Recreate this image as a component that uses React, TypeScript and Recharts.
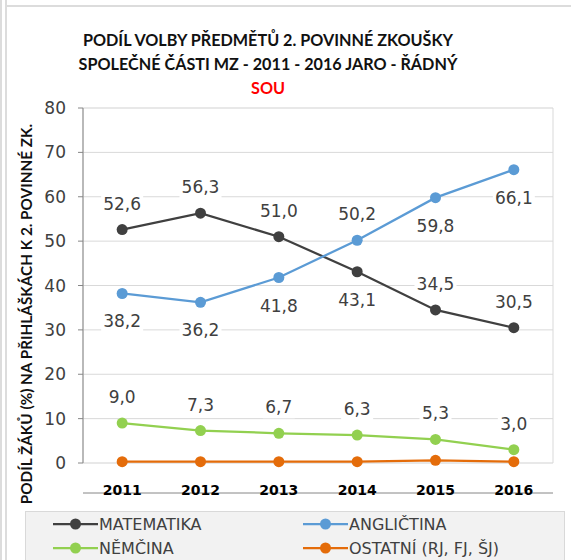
import React from "react";
import { LineChart, Line, XAxis, YAxis, CartesianGrid, LabelList, Legend } from "recharts";

const years = ["2011", "2012", "2013", "2014", "2015", "2016"];
const seriesNames = ["MATEMATIKA", "ANGLIČTINA", "NĚMČINA", "OSTATNÍ (RJ, FJ, ŠJ)"];
const matematika = [52.6, 56.3, 51.0, 43.1, 34.5, 30.5];
const anglictina = [38.2, 36.2, 41.8, 50.2, 59.8, 66.1];
const nemcina = [9.0, 7.3, 6.7, 6.3, 5.3, 3.0];
const ostatni = [0.3, 0.3, 0.3, 0.3, 0.6, 0.3];

const yTicks = [0, 10, 20, 30, 40, 50, 60, 70, 80];
const yMinorTicks = [0, 2, 4, 6, 8, 10, 12, 14, 16, 18, 20, 22, 24, 26, 28, 30, 32, 34, 36, 38, 40, 42, 44, 46, 48, 50, 52, 54, 56, 58, 60, 62, 64, 66, 68, 70, 72, 74, 76, 78, 80];
const boundaryTicks = [0, 1, 2, 3, 4, 5, 6];
const centerTicks = [0.5, 1.5, 2.5, 3.5, 4.5, 5.5];

// where each data label sits relative to its point
const matLabelSide = ["top", "top", "top", "bottom", "top", "top"];
const angLabelSide = ["bottom", "bottom", "bottom", "top", "bottom", "bottom"];
const nemLabelSide = ["top", "top", "top", "top", "top", "top"];

const data = years.map((year, i) => ({
  year,
  pos: centerTicks[i],
  mat: matematika[i],
  ang: anglictina[i],
  nem: nemcina[i],
  ost: ostatni[i],
}));

const COLORS = {
  mat: "#404040",
  ang: "#5b9bd5",
  nem: "#92d050",
  ost: "#e46c0a",
};

const numFont = "'DejaVu Sans', Verdana, sans-serif";
const titleFont = "Lato, 'Open Sans', sans-serif";

const fmt = (v: number) => v.toFixed(1).replace(".", ",");

const makeLabel = (sides: string[]) => (props: any) => {
  const { x, y, value, index } = props;
  const side = sides[index];
  const cy = side === "top" ? y - 26 : y + 28;
  const text = fmt(Number(value));
  const w = text.length * 10 + 2;
  return (
    <g>
      <rect x={x - w / 2} y={cy - 11} width={w} height={22} fill="#fff" />
      <text
        x={x}
        y={cy}
        textAnchor="middle"
        dominantBaseline="central"
        fontFamily={numFont}
        fontSize={17}
        fill="#404040"
      >
        {text}
      </text>
    </g>
  );
};

const LegendBox = (props: any) => {
  const items = props.payload || [];
  return (
    <div
      style={{
        display: "grid",
        gridTemplateColumns: "250px 250px",
        rowGap: 2,
        paddingLeft: 27,
        paddingTop: 1,
        fontFamily: numFont,
        fontSize: 16,
        color: "#404040",
      }}
    >
      {items.map((it: any) => (
        <div key={it.value} style={{ display: "flex", alignItems: "center", height: 22 }}>
          <svg width={45} height={14} style={{ marginRight: 1 }}>
            <line x1={0} y1={7} x2={45} y2={7} stroke={it.color} strokeWidth={2.25} />
            <circle cx={22.5} cy={7} r={5.5} fill={it.color} />
          </svg>
          <span>{it.value}</span>
        </div>
      ))}
    </div>
  );
};

const App: React.FC = () => {
  return (
    <div style={{ position: "absolute", left: 0, top: 0, width: 571, height: 560, background: "#fff", overflow: "hidden" }}>
      {/* outer frame lines */}
      <div style={{ position: "absolute", left: 0, top: 0, width: 2, height: 560, background: "#dcdcdc" }} />
      <div style={{ position: "absolute", left: 5, top: 0, width: 2, height: 560, background: "#dcdcdc" }} />
      <div style={{ position: "absolute", left: 5, top: 5, width: 566, height: 2, background: "#dcdcdc" }} />

      <div
        style={{
          position: "absolute",
          left: 68,
          top: 28,
          width: 400,
          textAlign: "center",
          fontFamily: titleFont,
          fontWeight: 700,
          fontSize: 16.2,
          lineHeight: "24px",
          color: "#111",
        }}
      >
        <div>PODÍL VOLBY PŘEDMĚTŮ 2. POVINNÉ ZKOUŠKY</div>
        <div>SPOLEČNÉ ČÁSTI MZ - 2011 - 2016 JARO - ŘÁDNÝ</div>
        <div style={{ color: "#ff0000" }}>SOU</div>
      </div>

      <LineChart width={571} height={560} data={data} margin={{ top: 108, right: 18, left: 0, bottom: 59 }}>
        <CartesianGrid xAxisId="grid" yAxisId="minor" vertical={false} stroke="#efefef" strokeWidth={1} />
        <CartesianGrid xAxisId="grid" yAxisId="major" stroke="#d9d9d9" strokeWidth={1} />
        <XAxis
          xAxisId="grid"
          dataKey="pos"
          type="number"
          domain={[0, 6]}
          allowDataOverflow
          ticks={boundaryTicks}
          interval={0}
          tick={false}
          tickSize={6}
          height={8}
          axisLine={{ stroke: "#868686" }}
          tickLine={{ stroke: "#868686" }}
        />
        <XAxis
          xAxisId="cat"
          dataKey="pos"
          type="number"
          domain={[0, 6]}
          allowDataOverflow
          ticks={centerTicks}
          interval={0}
          tickFormatter={(v: number) => years[Math.floor(v)]}
          height={30}
          axisLine={false}
          tickLine={false}
          tickSize={0}
          tickMargin={22}
          tick={{ fontFamily: numFont, fontSize: 14, fontWeight: 700, fill: "#000" }}
        />
        <YAxis
          yAxisId="major"
          width={83}
          domain={[0, 80]}
          ticks={yTicks}
          interval={0}
          tickSize={5}
          tickMargin={12}
          axisLine={{ stroke: "#868686" }}
          tickLine={{ stroke: "#868686" }}
          tick={{ fontFamily: numFont, fontSize: 17, fill: "#404040" }}
          label={{
            content: () => (
              <text
                x={26}
                y={314}
                transform="rotate(-90 26 314)"
                textAnchor="middle"
                dominantBaseline="central"
                fontFamily={titleFont}
                fontWeight={700}
                fontSize={15.3}
                fill="#111"
              >
                PODÍL ŽÁKŮ (%) NA PŘIHLÁŠKÁCH K 2. POVINNÉ ZK.
              </text>
            ),
          }}
        />
        <YAxis
          yAxisId="minor"
          orientation="right"
          width={0}
          domain={[0, 80]}
          ticks={yMinorTicks}
          interval={0}
          tick={false}
          axisLine={false}
          tickLine={false}
        />
        <Legend
          layout="horizontal"
          verticalAlign="middle"
          align="center"
          itemSorter={(item: any) => seriesNames.indexOf(item.value)}
          content={<LegendBox />}
          wrapperStyle={{
            position: "absolute",
            left: 25,
            top: 511,
            width: 540,
            height: 52,
            background: "#f2f2f2",
            border: "1px solid #d9d9d9",
            boxSizing: "border-box",
          }}
        />
        <Line
          xAxisId="grid"
          yAxisId="major"
          name={seriesNames[0]}
          dataKey="mat"
          stroke={COLORS.mat}
          strokeWidth={2.25}
          dot={{ r: 5.5, fill: COLORS.mat, stroke: "none" }}
          activeDot={false}
          isAnimationActive={false}
        >
          <LabelList dataKey="mat" content={makeLabel(matLabelSide)} />
        </Line>
        <Line
          xAxisId="grid"
          yAxisId="major"
          name={seriesNames[1]}
          dataKey="ang"
          stroke={COLORS.ang}
          strokeWidth={2.25}
          dot={{ r: 5.5, fill: COLORS.ang, stroke: "none" }}
          activeDot={false}
          isAnimationActive={false}
        >
          <LabelList dataKey="ang" content={makeLabel(angLabelSide)} />
        </Line>
        <Line
          xAxisId="grid"
          yAxisId="major"
          name={seriesNames[2]}
          dataKey="nem"
          stroke={COLORS.nem}
          strokeWidth={2.25}
          dot={{ r: 5.5, fill: COLORS.nem, stroke: "none" }}
          activeDot={false}
          isAnimationActive={false}
        >
          <LabelList dataKey="nem" content={makeLabel(nemLabelSide)} />
        </Line>
        <Line
          xAxisId="grid"
          yAxisId="major"
          name={seriesNames[3]}
          dataKey="ost"
          stroke={COLORS.ost}
          strokeWidth={2.25}
          dot={{ r: 5.5, fill: COLORS.ost, stroke: "none" }}
          activeDot={false}
          isAnimationActive={false}
        />
      </LineChart>
    </div>
  );
};

export default App;
